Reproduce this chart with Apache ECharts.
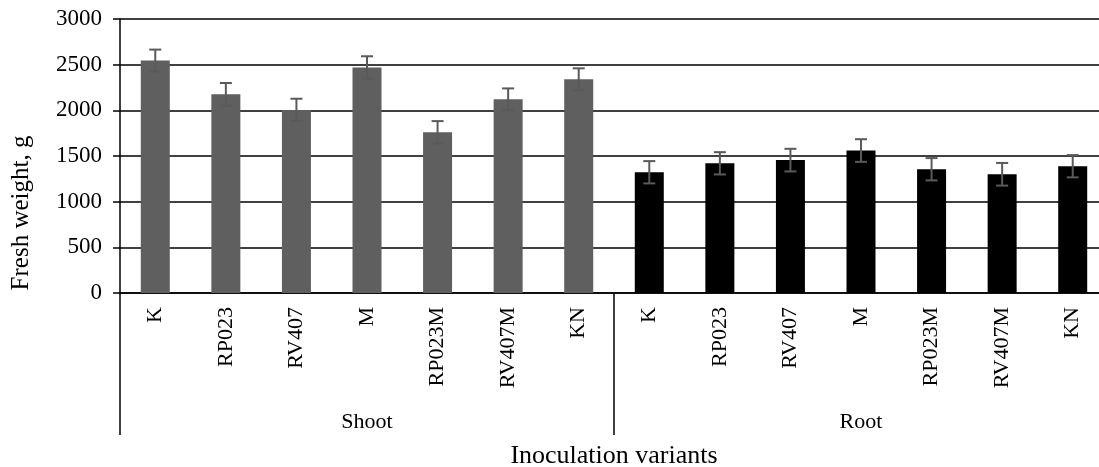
<!DOCTYPE html>
<html>
<head>
<meta charset="utf-8">
<script src="https://cdn.jsdelivr.net/npm/echarts@6/dist/echarts.min.js"></script>
<style>
html,body{margin:0;padding:0;background:#fff;}
#chart{width:1099px;height:467px;}
</style>
</head>
<body>
<div id="chart"></div>
<script>
const variants = ['K','RP023','RV407','M','RP023M','RV407M','KN'];
const groups = ['Shoot','Root'];
const shootValues = [2545, 2175, 2005, 2470, 1760, 2120, 2340];
const rootValues = [1322, 1420, 1455, 1560, 1355, 1300, 1388];
const shootErrors = [120, 124, 122, 122, 122, 120, 120];
const rootErrors = [122, 122, 124, 124, 122, 124, 122];
const yTicks = [0, 500, 1000, 1500, 2000, 2500, 3000];

const FONT = "'Liberation Serif', 'Times New Roman', serif";
const categories = variants.concat(variants);
const n = variants.length;
const shootData = categories.map((c, i) => i < n ? shootValues[i] : '-');
const rootData = categories.map((c, i) => i >= n ? rootValues[i - n] : '-');
const allValues = shootValues.concat(rootValues);
const allErrors = shootErrors.concat(rootErrors);
const errData = allValues.map((v, i) => [i, v - allErrors[i], v + allErrors[i]]);

const chart = echarts.init(document.getElementById('chart'), null, {renderer: 'canvas'});
const gridRect = {left: 120, top: 19, width: 988, height: 274, outerBoundsMode: 'none', containLabel: false};
chart.setOption({
  backgroundColor: '#fff',
  animation: false,
  textStyle: {fontFamily: FONT},
  grid: [Object.assign({}, gridRect), Object.assign({}, gridRect)],
  xAxis: [{
    type: 'category', gridIndex: 0, data: categories,
    axisLine: {lineStyle: {color: '#000', width: 1.5}},
    axisTick: {show: false},
    axisLabel: {rotate: 90, interval: 0, margin: 14, fontSize: 22, color: '#000', fontFamily: FONT},
    name: 'Inoculation variants', nameLocation: 'middle', nameGap: 150,
    nameTextStyle: {fontSize: 26, color: '#000', fontFamily: FONT}
  }, {
    type: 'category', gridIndex: 1, data: groups, position: 'bottom',
    axisLine: {show: false},
    axisTick: {show: true, length: 142, lineStyle: {color: '#000', width: 1.5}},
    axisLabel: {margin: 118, fontSize: 22, color: '#000', fontFamily: FONT},
    splitLine: {show: false}
  }],
  yAxis: [{
    type: 'value', gridIndex: 0, min: 0, max: 3000, interval: 500,
    axisLine: {show: true, lineStyle: {color: '#000', width: 1.5}},
    axisTick: {show: true, length: 7, lineStyle: {color: '#000', width: 1.5}},
    splitLine: {lineStyle: {color: '#000', width: 1.5}},
    axisLabel: {margin: 18, fontSize: 23, color: '#000', fontFamily: FONT,
      formatter: v => yTicks.indexOf(v) >= 0 ? String(v) : ''},
    name: 'Fresh weight, g', nameLocation: 'middle', nameGap: 86, nameRotate: 90,
    nameTextStyle: {fontSize: 25, color: '#000', fontFamily: FONT, padding: [0, 114, 0, 0]}
  }, {
    type: 'value', gridIndex: 1, show: false, min: 0, max: 3000
  }],
  series: [{
    name: 'Shoot', type: 'bar', xAxisIndex: 0, yAxisIndex: 0, data: shootData,
    barWidth: 29, barGap: '-100%', itemStyle: {color: '#5f5f5f'}
  }, {
    name: 'Root', type: 'bar', xAxisIndex: 0, yAxisIndex: 0, data: rootData,
    barWidth: 29, barGap: '-100%', itemStyle: {color: '#000'}
  }, {
    name: 'Error', type: 'custom', xAxisIndex: 0, yAxisIndex: 0, data: errData, z: 10,
    renderItem: function (params, api) {
      const x = api.value(0);
      const lo = api.coord([x, api.value(1)]);
      const hi = api.coord([x, api.value(2)]);
      const hw = 6;
      const style = {stroke: '#5a5a5a', lineWidth: 2};
      return {type: 'group', children: [
        {type: 'line', shape: {x1: lo[0], y1: lo[1], x2: hi[0], y2: hi[1]}, style: style},
        {type: 'line', shape: {x1: lo[0] - hw, y1: lo[1], x2: lo[0] + hw, y2: lo[1]}, style: style},
        {type: 'line', shape: {x1: hi[0] - hw, y1: hi[1], x2: hi[0] + hw, y2: hi[1]}, style: style}
      ]};
    }
  }]
});
</script>
</body>
</html>
